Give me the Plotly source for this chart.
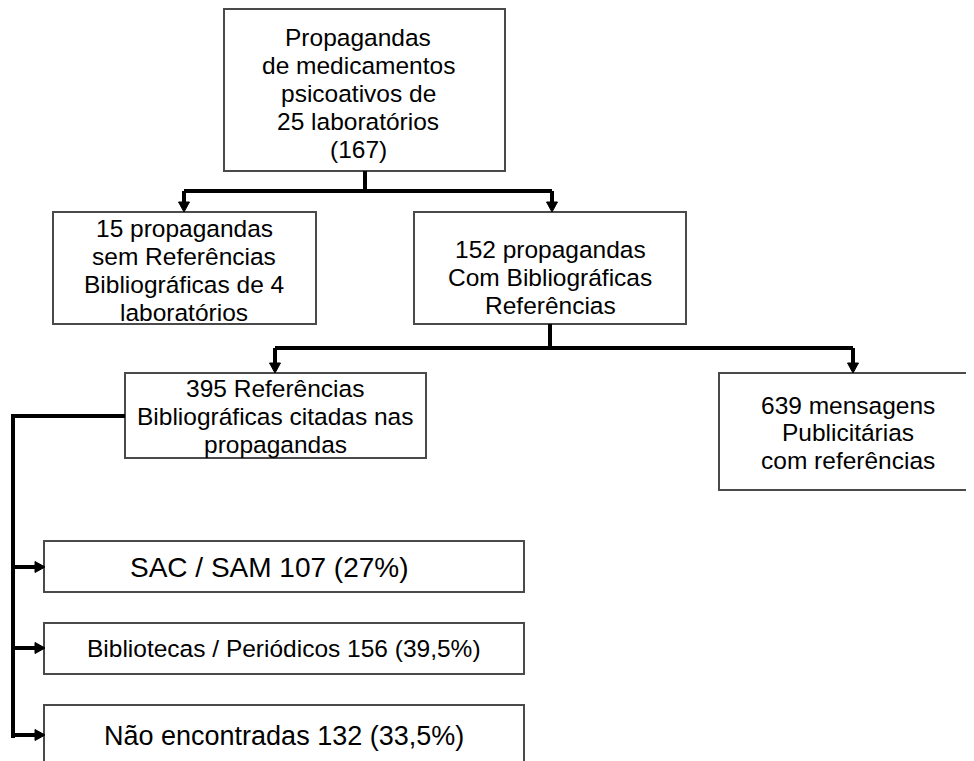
import plotly.graph_objects as go

# ---------------- data: text content of the flowchart ----------------
root_label = ["Propagandas", "de medicamentos", "psicoativos de", "25 laboratórios", "(167)"]
without_refs_label = ["15 propagandas", "sem Referências", "Bibliográficas de 4", "laboratórios"]
with_refs_label = ["152 propagandas", "Com Bibliográficas", "Referências"]
refs_label = ["395 Referências", "Bibliográficas citadas nas", "propagandas"]
messages_label = ["639 mensagens", "Publicitárias", "com referências"]
outcome_names = ["SAC / SAM", "Bibliotecas / Periódicos", "Não encontradas"]
outcome_counts = [107, 156, 132]
outcome_pcts = ["27%", "39,5%", "33,5%"]

# ---------------- layout (pixel space of the page) ----------------
W, H = 974, 761
PAGE_OFFSET = 8  # default body margin of the html page
FONT = "Liberation Sans, Arial, sans-serif"
BORDER = "#4a4a4a"
LINE_W = 4

# box: (x0, x1, y0, y1), text centre x, first line y, line step, font size
nodes = [
    (root_label,         (224, 505, 9, 171),   358, 37, 28.2, 24.5),
    (without_refs_label, (53, 316, 212, 324),  184, 228, 28, 24.5),
    (with_refs_label,    (414, 686, 212, 324), 550, 249, 28, 24.5),
    (refs_label,         (125, 426, 373, 458), 275, 388, 28, 24.5),
    (messages_label,     (719, 973, 373, 490), 848, 405, 27.5, 24.5),
]
outcome_boxes = [(44, 524, 541, 592), (44, 524, 623, 674), (44, 524, 705, 780)]
outcome_text_x = [269, 284, 284]
outcome_text_y = [567, 648, 736]
outcome_font = [28, 24.5, 27]

shapes = []
annotations = []


def add_box(x0, x1, y0, y1):
    shapes.append(dict(type="rect", xref="x", yref="y", x0=x0, x1=x1, y0=y0, y1=y1,
                       line=dict(color=BORDER, width=2), fillcolor="white", layer="below"))


def add_lines(lines, cx, y_first, step, size):
    for i, t in enumerate(lines):
        annotations.append(dict(x=cx, y=y_first + i * step, xref="x", yref="y", text=t,
                                showarrow=False, xanchor="center", yanchor="middle",
                                font=dict(family=FONT, size=size, color="#000000")))


def polyline(points):
    d = "M " + " L ".join(f"{x},{y}" for x, y in points)
    shapes.append(dict(type="path", xref="x", yref="y", path=d,
                       line=dict(color="black", width=LINE_W)))


def arrow(x0, y0, x1, y1, head=10, half=5.5):
    # shaft stops at head base, then filled triangle with tip at (x1, y1)
    dx, dy = x1 - x0, y1 - y0
    L = (dx * dx + dy * dy) ** 0.5
    ux, uy = dx / L, dy / L
    bx, by = x1 - ux * head, y1 - uy * head
    polyline([(x0, y0), (bx + ux, by + uy)])
    px, py = -uy, ux
    d = (f"M {x1},{y1} L {bx + px * half},{by + py * half} "
         f"L {bx - px * half},{by - py * half} Z")
    shapes.append(dict(type="path", xref="x", yref="y", path=d,
                       fillcolor="black", line=dict(color="black", width=1)))


for lines, (x0, x1, y0, y1), cx, yf, step, size in nodes:
    add_box(x0, x1, y0, y1)
    add_lines(lines, cx, yf, step, size)

for (x0, x1, y0, y1), name, n, p, tx, ty, fs in zip(outcome_boxes, outcome_names, outcome_counts,
                                                   outcome_pcts, outcome_text_x, outcome_text_y,
                                                   outcome_font):
    add_box(x0, x1, y0, y1)
    add_lines([f"{name} {n} ({p})"], tx, ty, 0, fs)

# connectors: root -> two children
polyline([(365, 171), (365, 191)])
polyline([(184, 191), (552, 191)])
arrow(184, 191, 184, 212)
arrow(552, 191, 552, 212)

# with refs -> refs / messages
polyline([(550, 324), (550, 348)])
polyline([(275, 348), (853, 348)])
arrow(275, 348, 275, 373)
arrow(853, 348, 853, 373)

# refs -> outcomes
polyline([(125, 416), (13, 416), (13, 738)])
for ty in [567, 648, 735]:
    arrow(13, ty, 45, ty)

fig = go.Figure()
fig.update_layout(
    width=W, height=H,
    margin=dict(l=0, r=0, t=0, b=0),
    paper_bgcolor="white", plot_bgcolor="white",
    xaxis=dict(range=[PAGE_OFFSET, W + PAGE_OFFSET], visible=False, fixedrange=True),
    yaxis=dict(range=[H + PAGE_OFFSET, PAGE_OFFSET], visible=False, fixedrange=True),
    shapes=shapes, annotations=annotations,
    showlegend=False,
)
fig.write_html("out.html")
